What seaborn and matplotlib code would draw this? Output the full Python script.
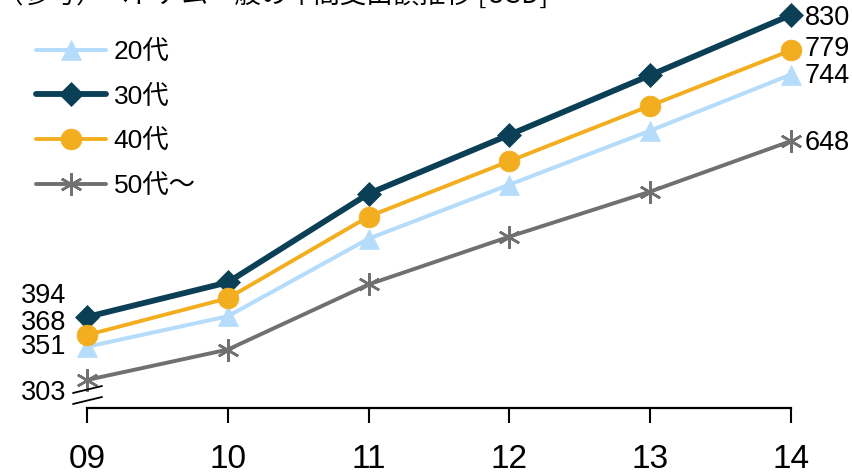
import matplotlib
matplotlib.use("Agg")
import matplotlib.pyplot as plt
from matplotlib.lines import Line2D
import seaborn as sns
import pandas as pd

# Annual spending per household by age group [USD]
years = ["09", "10", "11", "12", "13", "14"]
age_groups = ["20代", "30代", "40代", "50代～"]
spend_20s = [351, 395, 507, 585, 663, 744]
spend_30s = [394, 444, 572, 657, 743, 830]
spend_40s = [368, 421, 539, 619, 699, 779]
spend_50s = [303, 347, 441, 510, 575, 648]

series = [spend_20s, spend_30s, spend_40s, spend_50s]
colors = ["#B5DCFA", "#0A3F55", "#F2AE1F", "#707070"]
markers = ["^", "D", "o", (6, 2, 0)]
msizes = [15, 12.5, 15, 16]
lwidths = [2.9, 4.2, 2.8, 2.8]

rows = []
for grp, vals in zip(age_groups, series):
    for i, v in enumerate(vals):
        rows.append({"year": i, "age": grp, "value": v})
df = pd.DataFrame(rows)

sns.set_style("white")
num_font = ["Liberation Sans Narrow", "Liberation Sans", "Noto Sans CJK JP"]
plt.rcParams["font.family"] = num_font
plt.rcParams["text.color"] = "black"
plt.rcParams["xtick.color"] = "black"

W, H = 853, 476
fig = plt.figure(figsize=(W / 100, H / 100), dpi=100)
ax = fig.add_axes([87 / W, 68 / H, 704 / W, 408 / H])

for grp, col, mk, ms, lw in zip(age_groups, colors, markers, msizes, lwidths):
    sub = df[df["age"] == grp]
    sns.lineplot(data=sub, x="year", y="value", ax=ax, color=col, marker=mk,
                 markersize=ms, linewidth=lw, markeredgecolor=col,
                 markeredgewidth=1.8 if grp == "50代～" else 0.5,
                 label=grp, clip_on=False, zorder=3)

ax.set_xlim(0, 5)
ax.set_ylim(262.6, 851.6)
ax.set_xticks(range(len(years)))
ax.set_xticklabels(years, fontsize=24, color="black")
ax.set_yticks([])
ax.set_xlabel("")
ax.set_ylabel("")
for s in ["top", "right", "left"]:
    ax.spines[s].set_visible(False)
ax.spines["bottom"].set_linewidth(1.6)
ax.spines["bottom"].set_color("black")
ax.tick_params(axis="x", direction="out", length=11, width=1.5,
               color="black", pad=15, bottom=True)

# value labels at both ends of each line
lab_fs = 19.5
left_offsets = [0, 21, 12, -13]
right_offsets = [-1, -3, 1, -2]
for vals, dl, dr in zip(series, left_offsets, right_offsets):
    ax.annotate(f"{vals[0]}", (0, vals[0]), xytext=(-21, dl),
                textcoords="offset pixels", ha="right", va="center",
                fontsize=lab_fs, color="black", annotation_clip=False)
    ax.annotate(f"{vals[-1]}", (5, vals[-1]), xytext=(14, dr),
                textcoords="offset pixels", ha="left", va="center",
                fontsize=lab_fs, color="black", annotation_clip=False)

# axis break mark
for y0, y1 in [(393, 386), (404, 397)]:
    fig.add_artist(Line2D([73 / W, 102 / W], [1 - y0 / H, 1 - y1 / H],
                          transform=fig.transFigure, color="black", lw=1.3))

leg = ax.legend(loc="upper left", bbox_to_anchor=(36 / W, 1 - 40 / H),
                bbox_transform=fig.transFigure, frameon=False, fontsize=19,
                handlelength=2.65, handletextpad=0.3, labelspacing=0.78,
                borderpad=0, borderaxespad=0)
for t in leg.get_texts():
    t.set_color("black")

fig.text(-0.004, 1 + 5 / H, "（参考）ベトナム一般の年間支出額推移 [USD]",
         fontsize=19, va="center", ha="left", color="black",
         family=["Noto Sans CJK JP", "DejaVu Sans"])

fig.savefig("out.png", dpi=100)
